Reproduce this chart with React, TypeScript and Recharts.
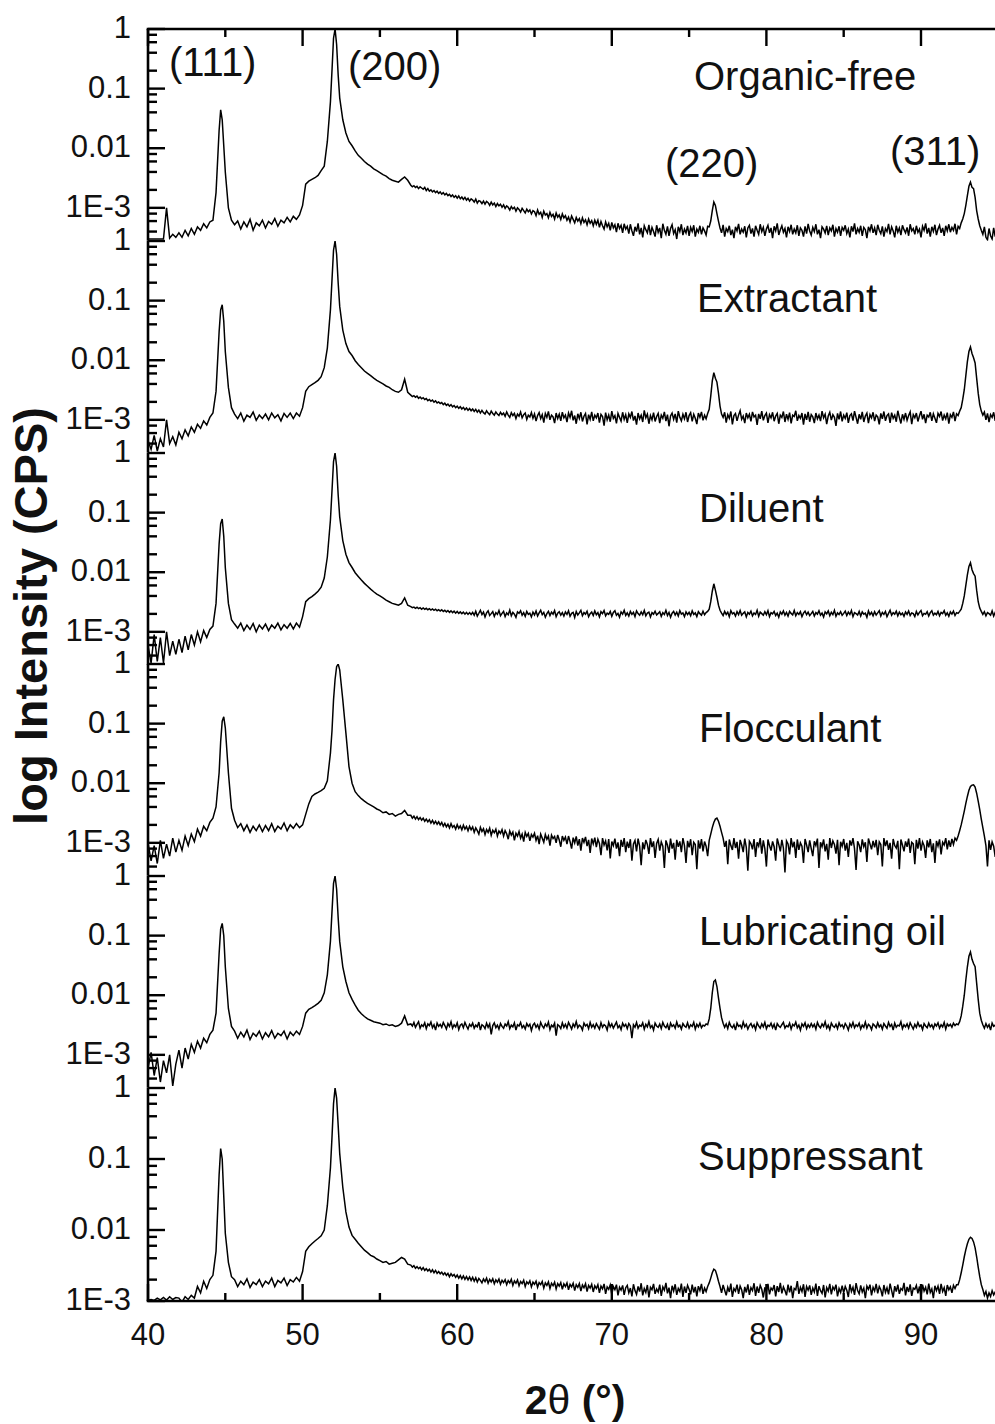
import React from 'react';
import { LineChart, Line, XAxis, YAxis } from 'recharts';

// 2θ positions (degrees), shared by every pattern: 0.2° steps (finer round the main peaks) up to 56.8, then 0.1° steps
const twoTheta = [
  40, 40.2, 40.4, 40.6, 40.8, 41, 41.2, 41.4, 41.6, 41.8,
  42, 42.2, 42.4, 42.6, 42.8, 43, 43.2, 43.4, 43.6, 43.8,
  44, 44.2, 44.4, 44.6, 44.7, 44.8, 44.9, 45, 45.2, 45.4,
  45.6, 45.8, 46, 46.2, 46.4, 46.6, 46.8, 47, 47.2, 47.4,
  47.6, 47.8, 48, 48.2, 48.4, 48.6, 48.8, 49, 49.2, 49.4,
  49.6, 49.8, 50, 50.2, 50.4, 50.6, 50.8, 51, 51.2, 51.4,
  51.6, 51.8, 51.9, 52, 52.1, 52.2, 52.3, 52.4, 52.6, 52.8,
  53, 53.2, 53.4, 53.6, 53.8, 54, 54.2, 54.4, 54.6, 54.8,
  55, 55.2, 55.4, 55.6, 55.8, 56, 56.2, 56.4, 56.6, 56.8,
  57, 57.1, 57.2, 57.3, 57.4, 57.5, 57.6, 57.7, 57.8, 57.9, 58, 58.1, 58.2, 58.3, 58.4, 58.5, 58.6, 58.7, 58.8, 58.9,
  59, 59.1, 59.2, 59.3, 59.4, 59.5, 59.6, 59.7, 59.8, 59.9, 60, 60.1, 60.2, 60.3, 60.4, 60.5, 60.6, 60.7, 60.8, 60.9,
  61, 61.1, 61.2, 61.3, 61.4, 61.5, 61.6, 61.7, 61.8, 61.9, 62, 62.1, 62.2, 62.3, 62.4, 62.5, 62.6, 62.7, 62.8, 62.9,
  63, 63.1, 63.2, 63.3, 63.4, 63.5, 63.6, 63.7, 63.8, 63.9, 64, 64.1, 64.2, 64.3, 64.4, 64.5, 64.6, 64.7, 64.8, 64.9,
  65, 65.1, 65.2, 65.3, 65.4, 65.5, 65.6, 65.7, 65.8, 65.9, 66, 66.1, 66.2, 66.3, 66.4, 66.5, 66.6, 66.7, 66.8, 66.9,
  67, 67.1, 67.2, 67.3, 67.4, 67.5, 67.6, 67.7, 67.8, 67.9, 68, 68.1, 68.2, 68.3, 68.4, 68.5, 68.6, 68.7, 68.8, 68.9,
  69, 69.1, 69.2, 69.3, 69.4, 69.5, 69.6, 69.7, 69.8, 69.9, 70, 70.1, 70.2, 70.3, 70.4, 70.5, 70.6, 70.7, 70.8, 70.9,
  71, 71.1, 71.2, 71.3, 71.4, 71.5, 71.6, 71.7, 71.8, 71.9, 72, 72.1, 72.2, 72.3, 72.4, 72.5, 72.6, 72.7, 72.8, 72.9,
  73, 73.1, 73.2, 73.3, 73.4, 73.5, 73.6, 73.7, 73.8, 73.9, 74, 74.1, 74.2, 74.3, 74.4, 74.5, 74.6, 74.7, 74.8, 74.9,
  75, 75.1, 75.2, 75.3, 75.4, 75.5, 75.6, 75.7, 75.8, 75.9, 76, 76.1, 76.2, 76.3, 76.4, 76.5, 76.6, 76.7, 76.8, 76.9,
  77, 77.1, 77.2, 77.3, 77.4, 77.5, 77.6, 77.7, 77.8, 77.9, 78, 78.1, 78.2, 78.3, 78.4, 78.5, 78.6, 78.7, 78.8, 78.9,
  79, 79.1, 79.2, 79.3, 79.4, 79.5, 79.6, 79.7, 79.8, 79.9, 80, 80.1, 80.2, 80.3, 80.4, 80.5, 80.6, 80.7, 80.8, 80.9,
  81, 81.1, 81.2, 81.3, 81.4, 81.5, 81.6, 81.7, 81.8, 81.9, 82, 82.1, 82.2, 82.3, 82.4, 82.5, 82.6, 82.7, 82.8, 82.9,
  83, 83.1, 83.2, 83.3, 83.4, 83.5, 83.6, 83.7, 83.8, 83.9, 84, 84.1, 84.2, 84.3, 84.4, 84.5, 84.6, 84.7, 84.8, 84.9,
  85, 85.1, 85.2, 85.3, 85.4, 85.5, 85.6, 85.7, 85.8, 85.9, 86, 86.1, 86.2, 86.3, 86.4, 86.5, 86.6, 86.7, 86.8, 86.9,
  87, 87.1, 87.2, 87.3, 87.4, 87.5, 87.6, 87.7, 87.8, 87.9, 88, 88.1, 88.2, 88.3, 88.4, 88.5, 88.6, 88.7, 88.8, 88.9,
  89, 89.1, 89.2, 89.3, 89.4, 89.5, 89.6, 89.7, 89.8, 89.9, 90, 90.1, 90.2, 90.3, 90.4, 90.5, 90.6, 90.7, 90.8, 90.9,
  91, 91.1, 91.2, 91.3, 91.4, 91.5, 91.6, 91.7, 91.8, 91.9, 92, 92.1, 92.2, 92.3, 92.4, 92.5, 92.6, 92.7, 92.8, 92.9,
  93, 93.1, 93.2, 93.3, 93.4, 93.5, 93.6, 93.7, 93.8, 93.9, 94, 94.1, 94.2, 94.3, 94.4, 94.5, 94.6, 94.7, 94.8, 94.9,
  95,
];

const organicFree = [
  3e-4, 3e-4, 3e-4, 3e-4, 3e-4, 3e-4, 1e-3, 3.1e-4, 3.6e-4, 3.2e-4,
  3.8e-4, 3.2e-4, 4.2e-4, 3.4e-4, 4.5e-4, 3.6e-4, 4.8e-4, 4.2e-4, 5.4e-4, 4.6e-4,
  5.8e-4, 6.2e-4, 1.8e-3, 0.02, 0.044, 0.03, 0.011, 4e-3, 1e-3, 6.2e-4,
  5.2e-4, 6e-4, 4.4e-4, 5.8e-4, 4.8e-4, 6.4e-4, 4.2e-4, 5.6e-4, 5e-4, 6.2e-4,
  4.6e-4, 5.9e-4, 5.3e-4, 6.6e-4, 4.9e-4, 6.2e-4, 5.6e-4, 6.9e-4, 5.8e-4, 7.2e-4,
  6.4e-4, 7.6e-4, 1.1e-3, 2.5e-3, 2.8e-3, 3e-3, 3.2e-3, 3.5e-3, 4.2e-3, 5e-3,
  0.013, 0.06, 0.2, 0.7, 1, 0.55, 0.17, 0.07, 0.03, 0.018,
  0.013, 0.011, 9e-3, 7.6e-3, 6.8e-3, 6e-3, 5.4e-3, 5e-3, 4.5e-3, 4.2e-3,
  3.9e-3, 3.6e-3, 3.4e-3, 3.1e-3, 2.9e-3, 2.8e-3, 2.7e-3, 3e-3, 3.3e-3, 2.9e-3,
  2.4e-3, 2.25e-3, 2.35e-3, 2.2e-3, 2.3e-3, 2.1e-3, 2.25e-3, 2.15e-3, 2.05e-3, 2.2e-3, 1.95e-3, 2.1e-3, 1.9e-3, 2e-3, 1.85e-3, 1.95e-3, 1.8e-3, 1.9e-3, 1.75e-3, 1.85e-3,
  1.7e-3, 1.8e-3, 1.65e-3, 1.75e-3, 1.6e-3, 1.68e-3, 1.55e-3, 1.65e-3, 1.5e-3, 1.6e-3, 1.45e-3, 1.58e-3, 1.42e-3, 1.52e-3, 1.38e-3, 1.5e-3, 1.35e-3, 1.45e-3, 1.3e-3, 1.42e-3,
  1.35e-3, 1.25e-3, 1.4e-3, 1.2e-3, 1.32e-3, 1.28e-3, 1.18e-3, 1.3e-3, 1.15e-3, 1.28e-3, 1.22e-3, 1.1e-3, 1.25e-3, 1.12e-3, 1.2e-3, 1.05e-3, 1.18e-3, 1.08e-3, 1.15e-3, 1.02e-3,
  1.12e-3, 9.8e-4, 1.08e-3, 1.02e-3, 9.2e-4, 1.05e-3, 9.6e-4, 1.02e-3, 8.8e-4, 1e-3, 9.4e-4, 8.5e-4, 9.8e-4, 9e-4, 8.2e-4, 9.5e-4, 8.6e-4, 9.2e-4, 7.9e-4, 9e-4,
  8.6e-4, 7.4e-4, 9.2e-4, 7.8e-4, 8.4e-4, 6.9e-4, 8.8e-4, 7.6e-4, 8e-4, 6.8e-4, 8.4e-4, 7.2e-4, 7.8e-4, 6.5e-4, 8.2e-4, 7e-4, 7.6e-4, 6.4e-4, 7.9e-4, 6.8e-4,
  7.4e-4, 6.2e-4, 7e-4, 5.8e-4, 7.3e-4, 6.4e-4, 5.6e-4, 6.9e-4, 6e-4, 6.6e-4, 5.4e-4, 6.8e-4, 5.7e-4, 6.3e-4, 5.2e-4, 6.5e-4, 5.5e-4, 6.1e-4, 5e-4, 6.2e-4,
  5.3e-4, 6.2e-4, 4.7e-4, 5.9e-4, 5e-4, 4.4e-4, 5.8e-4, 4.8e-4, 5.5e-4, 4.2e-4, 5.7e-4, 4.6e-4, 5.2e-4, 3.9e-4, 5.5e-4, 4.5e-4, 5.1e-4, 3.8e-4, 5.4e-4, 4.4e-4,
  4.9e-4, 3.7e-4, 5.3e-4, 4.1e-4, 3.4e-4, 4.8e-4, 4e-4, 5.5e-4, 3.6e-4, 4.6e-4, 3.2e-4, 5e-4, 4.3e-4, 3.8e-4, 5.2e-4, 3.5e-4, 4.7e-4, 4e-4, 3.3e-4, 5.1e-4,
  3.9e-4, 4.6e-4, 3.1e-4, 5.4e-4, 4.2e-4, 3.6e-4, 4.9e-4, 3.4e-4, 4.5e-4, 5.2e-4, 3.7e-4, 4.3e-4, 3e-4, 4.8e-4, 4e-4, 5.3e-4, 3.5e-4, 4.4e-4, 3.8e-4, 5e-4,
  3.4e-4, 4.7e-4, 4e-4, 5.1e-4, 3.3e-4, 4.4e-4, 3.9e-4, 5e-4, 3.6e-4, 4.6e-4, 4.1e-4, 3.5e-4, 4.9e-4, 4.8e-4, 6e-4, 9e-4, 1.25e-3, 1.1e-3, 8e-4, 6e-4,
  4.6e-4, 3.8e-4, 5.2e-4, 3.3e-4, 4.5e-4, 4e-4, 5e-4, 3.5e-4, 4.3e-4, 3.1e-4, 4.8e-4, 4.1e-4, 5.4e-4, 3.6e-4, 4.4e-4, 3.9e-4, 4.9e-4, 3.2e-4, 4.6e-4, 5.1e-4,
  3.7e-4, 4.5e-4, 3.3e-4, 5e-4, 4.2e-4, 3.6e-4, 5.3e-4, 4e-4, 4.7e-4, 3.4e-4, 4.4e-4, 5.1e-4, 3.8e-4, 4.6e-4, 3.1e-4, 4.9e-4, 4.1e-4, 5.5e-4, 3.5e-4, 4.3e-4,
  5e-4, 3.9e-4, 4.5e-4, 3.2e-4, 4.8e-4, 4e-4, 5.2e-4, 3.6e-4, 4.4e-4, 3.8e-4, 5.1e-4, 3.4e-4, 4.6e-4, 4.2e-4, 3.3e-4, 4.9e-4, 3.7e-4, 5.4e-4, 4.1e-4, 3.5e-4,
  4.7e-4, 4e-4, 5.3e-4, 3.6e-4, 4.3e-4, 3.1e-4, 4.8e-4, 4.4e-4, 3.8e-4, 5e-4, 3.5e-4, 4.6e-4, 4.1e-4, 5.2e-4, 3.3e-4, 4.5e-4, 3.9e-4, 4.9e-4, 3.4e-4, 4.7e-4,
  4.2e-4, 5.1e-4, 3.7e-4, 4.4e-4, 3.2e-4, 4.9e-4, 4e-4, 5.5e-4, 3.6e-4, 4.5e-4, 3.9e-4, 5e-4, 3.4e-4, 4.7e-4, 4.3e-4, 3.1e-4, 4.8e-4, 4.1e-4, 5.3e-4, 3.8e-4,
  4.6e-4, 3.5e-4, 5.2e-4, 4.2e-4, 3.7e-4, 4.9e-4, 3.3e-4, 4.5e-4, 4e-4, 5.4e-4, 3.6e-4, 4.8e-4, 4.1e-4, 3.2e-4, 5e-4, 3.9e-4, 4.6e-4, 3.5e-4, 5.1e-4, 4.3e-4,
  3.8e-4, 4.7e-4, 3.4e-4, 5.3e-4, 4.1e-4, 4.5e-4, 3.6e-4, 5e-4, 3.9e-4, 4.4e-4, 3.2e-4, 4.9e-4, 4.2e-4, 5.5e-4, 3.7e-4, 4.6e-4, 3.3e-4, 4.8e-4, 4e-4, 5.2e-4,
  3.5e-4, 4.4e-4, 5.1e-4, 3.8e-4, 4.6e-4, 3.4e-4, 5e-4, 4.1e-4, 5.3e-4, 3.9e-4, 4.7e-4, 4.2e-4, 5.4e-4, 3.6e-4, 4.9e-4, 4.5e-4, 5.6e-4, 6.5e-4, 8e-4, 1.1e-3,
  1.6e-3, 2.3e-3, 2.7e-3, 2.2e-3, 2.1e-3, 1.5e-3, 9e-4, 6.5e-4, 5e-4, 4.2e-4, 3.6e-4, 4.8e-4, 3.2e-4, 2.9e-4, 4.5e-4, 3.4e-4, 3e-4, 4.6e-4, 3.3e-4, 4.4e-4,
  3.8e-4,
];

const extractant = [
  4.5e-4, 3.2e-4, 5.5e-4, 3e-4, 4.8e-4, 3.5e-4, 1e-3, 4e-4, 5.2e-4, 3.8e-4,
  6.2e-4, 4.8e-4, 6.8e-4, 5.4e-4, 7.6e-4, 6.2e-4, 8.4e-4, 7.2e-4, 9.6e-4, 8.2e-4,
  1.1e-3, 1.3e-3, 3e-3, 0.03, 0.07, 0.085, 0.045, 0.014, 3.5e-3, 1.6e-3,
  1.25e-3, 1.05e-3, 1.3e-3, 9.5e-4, 1.2e-3, 1.1e-3, 1.35e-3, 9.8e-4, 1.2e-3, 1.05e-3,
  1.25e-3, 1e-3, 1.3e-3, 1.08e-3, 1.22e-3, 9.6e-4, 1.28e-3, 1.1e-3, 1.3e-3, 1.05e-3,
  1.3e-3, 1.15e-3, 1.6e-3, 3e-3, 3.6e-3, 3.9e-3, 4.2e-3, 4.6e-3, 5.3e-3, 7.5e-3,
  0.016, 0.07, 0.22, 0.7, 1, 0.6, 0.2, 0.08, 0.032, 0.019,
  0.014, 0.012, 9.8e-3, 8.5e-3, 7.5e-3, 6.6e-3, 6e-3, 5.5e-3, 5e-3, 4.6e-3,
  4.3e-3, 4e-3, 3.7e-3, 3.5e-3, 3.2e-3, 3e-3, 2.9e-3, 3.2e-3, 4.8e-3, 2.9e-3,
  2.6e-3, 2.45e-3, 2.55e-3, 2.4e-3, 2.5e-3, 2.3e-3, 2.42e-3, 2.25e-3, 2.35e-3, 2.2e-3, 2.28e-3, 2.1e-3, 2.2e-3, 2.05e-3, 2.15e-3, 1.98e-3, 2.08e-3, 1.92e-3, 2e-3, 1.88e-3,
  1.95e-3, 1.8e-3, 1.9e-3, 1.75e-3, 1.84e-3, 1.7e-3, 1.8e-3, 1.65e-3, 1.74e-3, 1.6e-3, 1.7e-3, 1.56e-3, 1.66e-3, 1.52e-3, 1.62e-3, 1.48e-3, 1.58e-3, 1.45e-3, 1.55e-3, 1.42e-3,
  1.52e-3, 1.38e-3, 1.5e-3, 1.35e-3, 1.46e-3, 1.3e-3, 1.44e-3, 1.32e-3, 1.25e-3, 1.42e-3, 1.3e-3, 1.22e-3, 1.4e-3, 1.28e-3, 1.2e-3, 1.36e-3, 1.25e-3, 1.18e-3, 1.34e-3, 1.22e-3,
  1.3e-3, 1.15e-3, 1.36e-3, 1.2e-3, 1.1e-3, 1.32e-3, 1.18e-3, 1.28e-3, 1.05e-3, 1.25e-3, 1.15e-3, 1.35e-3, 1.08e-3, 1.22e-3, 1.3e-3, 1.02e-3, 1.2e-3, 1.12e-3, 1.33e-3, 1.06e-3,
  1.25e-3, 9.5e-4, 1.18e-3, 1.32e-3, 1.05e-3, 1.22e-3, 9e-4, 1.28e-3, 1.1e-3, 1.38e-3, 1e-3, 1.2e-3, 1.12e-3, 8.8e-4, 1.3e-3, 1.05e-3, 1.24e-3, 9.6e-4, 1.35e-3, 1.08e-3,
  1.2e-3, 9.2e-4, 1.3e-3, 1.1e-3, 1.42e-3, 9.8e-4, 1.18e-3, 8.6e-4, 1.26e-3, 1.05e-3, 1.34e-3, 9.4e-4, 1.15e-3, 1.28e-3, 8.4e-4, 1.22e-3, 1.02e-3, 1.36e-3, 9.6e-4, 1.2e-3,
  1.08e-3, 1.3e-3, 9e-4, 1.24e-3, 1.14e-3, 8e-4, 1.32e-3, 1e-3, 1.2e-3, 9.3e-4, 1.4e-3, 1.06e-3, 1.18e-3, 8.7e-4, 1.28e-3, 1.1e-3, 9.5e-4, 1.34e-3, 1.02e-3, 1.22e-3,
  8.9e-4, 1.26e-3, 1.1e-3, 1.38e-3, 9.7e-4, 1.16e-3, 8.3e-4, 1.3e-3, 1.04e-3, 1.2e-3, 9.2e-4, 1.44e-3, 1.08e-3, 1.24e-3, 8.6e-4, 1.18e-3, 1e-3, 1.32e-3, 9.4e-4, 1.14e-3,
  1.28e-3, 8.8e-4, 1.2e-3, 1.06e-3, 1.36e-3, 9.5e-4, 1.22e-3, 7.8e-4, 1.16e-3, 1.3e-3, 1.02e-3, 1.26e-3, 9e-4, 1.4e-3, 1.1e-3, 9.6e-4, 1.24e-3, 1.04e-3, 1.34e-3, 9.2e-4,
  1.18e-3, 1.32e-3, 9.4e-4, 1.24e-3, 1.06e-3, 8.5e-4, 1.3e-3, 1.1e-3, 1.36e-3, 9.8e-4, 1.2e-3, 1.04e-3, 1.28e-3, 1.5e-3, 2.5e-3, 4.5e-3, 6.2e-3, 5e-3, 4.3e-3, 2.8e-3,
  1.7e-3, 1.25e-3, 1.1e-3, 1.34e-3, 9e-4, 1.22e-3, 1.06e-3, 1.38e-3, 8.4e-4, 1.18e-3, 1.28e-3, 9.6e-4, 1.2e-3, 1.42e-3, 1.02e-3, 1.16e-3, 8.8e-4, 1.3e-3, 1.08e-3, 1.24e-3,
  9.4e-4, 1.36e-3, 1.12e-3, 1.2e-3, 8.2e-4, 1.26e-3, 1.04e-3, 1.4e-3, 9.8e-4, 1.18e-3, 1.3e-3, 8.9e-4, 1.22e-3, 1.08e-3, 1.34e-3, 9.5e-4, 1.16e-3, 1.28e-3, 8.6e-4, 1.2e-3,
  1.1e-3, 1.38e-3, 9.2e-4, 1.24e-3, 1.02e-3, 1.32e-3, 8.7e-4, 1.2e-3, 1.14e-3, 1.42e-3, 9.6e-4, 1.18e-3, 1.06e-3, 1.3e-3, 8.3e-4, 1.26e-3, 1e-3, 1.36e-3, 9.3e-4, 1.22e-3,
  1.12e-3, 8.8e-4, 1.3e-3, 1.04e-3, 1.2e-3, 9.5e-4, 1.4e-3, 1.08e-3, 1.24e-3, 8.5e-4, 1.16e-3, 1.34e-3, 9.9e-4, 1.22e-3, 1.1e-3, 7.9e-4, 1.28e-3, 1.02e-3, 1.38e-3, 9.4e-4,
  1.2e-3, 1.06e-3, 1.32e-3, 8.9e-4, 1.18e-3, 1.26e-3, 9.7e-4, 1.4e-3, 1.1e-3, 8.6e-4, 1.24e-3, 1.02e-3, 1.36e-3, 9.2e-4, 1.16e-3, 1.3e-3, 8.8e-4, 1.22e-3, 1.08e-3, 1.34e-3,
  9.5e-4, 1.2e-3, 1.12e-3, 8.4e-4, 1.28e-3, 1.04e-3, 1.38e-3, 9.6e-4, 1.18e-3, 1.26e-3, 8.9e-4, 1.32e-3, 1.06e-3, 1.2e-3, 9.3e-4, 1.42e-3, 1.1e-3, 8.7e-4, 1.24e-3, 1.02e-3,
  1.3e-3, 9.8e-4, 1.18e-3, 1.36e-3, 8.5e-4, 1.22e-3, 1.08e-3, 1.3e-3, 9.4e-4, 1.16e-3, 1.4e-3, 1.02e-3, 1.24e-3, 8.8e-4, 1.2e-3, 1.12e-3, 1.34e-3, 9.6e-4, 1.26e-3, 1.06e-3,
  8.9e-4, 1.28e-3, 1.14e-3, 1.38e-3, 9.7e-4, 1.2e-3, 1.04e-3, 1.32e-3, 8.6e-4, 1.22e-3, 1.1e-3, 1.36e-3, 9.5e-4, 1.26e-3, 1.18e-3, 1.4e-3, 1.6e-3, 2.2e-3, 3.2e-3, 5.5e-3,
  9.5e-3, 0.014, 0.0167, 0.013, 0.011, 9e-3, 5e-3, 2.8e-3, 1.8e-3, 1.4e-3, 1.2e-3, 1.35e-3, 1e-3, 1.28e-3, 9.2e-4, 1.22e-3, 1.1e-3, 1.34e-3, 9.6e-4, 1.2e-3,
  1.15e-3,
];

const diluent = [
  6e-4, 3e-4, 9e-4, 3.2e-4, 8e-4, 3e-4, 1e-3, 4e-4, 7e-4, 4.2e-4,
  7.5e-4, 4.5e-4, 8.5e-4, 5e-4, 9e-4, 6e-4, 1e-3, 6.8e-4, 1.05e-3, 8e-4,
  1.1e-3, 1.25e-3, 3e-3, 0.03, 0.065, 0.078, 0.04, 0.012, 3e-3, 1.6e-3,
  1.35e-3, 1.15e-3, 1.4e-3, 1.05e-3, 1.3e-3, 1.1e-3, 1.38e-3, 1e-3, 1.3e-3, 1.12e-3,
  1.35e-3, 1.05e-3, 1.3e-3, 1.15e-3, 1.4e-3, 1.08e-3, 1.32e-3, 1.15e-3, 1.38e-3, 1.12e-3,
  1.4e-3, 1.2e-3, 1.8e-3, 3.2e-3, 3.6e-3, 3.9e-3, 4.3e-3, 4.8e-3, 5.6e-3, 8e-3,
  0.018, 0.075, 0.23, 0.72, 1, 0.6, 0.2, 0.085, 0.034, 0.02,
  0.0145, 0.012, 9.8e-3, 8.5e-3, 7.4e-3, 6.5e-3, 5.8e-3, 5.2e-3, 4.7e-3, 4.3e-3,
  4e-3, 3.7e-3, 3.4e-3, 3.2e-3, 3e-3, 2.9e-3, 2.8e-3, 3e-3, 3.7e-3, 2.8e-3,
  2.65e-3, 2.55e-3, 2.6e-3, 2.48e-3, 2.58e-3, 2.45e-3, 2.55e-3, 2.4e-3, 2.52e-3, 2.38e-3, 2.48e-3, 2.35e-3, 2.45e-3, 2.32e-3, 2.42e-3, 2.3e-3, 2.4e-3, 2.26e-3, 2.36e-3, 2.24e-3,
  2.34e-3, 2.2e-3, 2.3e-3, 2.16e-3, 2.28e-3, 2.12e-3, 2.25e-3, 2.1e-3, 2.22e-3, 2.06e-3, 2.2e-3, 2.04e-3, 2.16e-3, 2.02e-3, 2.14e-3, 1.98e-3, 2.12e-3, 1.96e-3, 2.1e-3, 1.95e-3,
  2.12e-3, 1.9e-3, 2.22e-3, 1.84e-3, 2.05e-3, 2.3e-3, 1.95e-3, 2.15e-3, 1.78e-3, 2.08e-3, 2.25e-3, 1.88e-3, 2.02e-3, 2.18e-3, 1.82e-3, 2.1e-3, 1.96e-3, 2.28e-3, 1.86e-3, 2.04e-3,
  2.2e-3, 1.8e-3, 2.08e-3, 1.94e-3, 2.32e-3, 1.86e-3, 2.12e-3, 1.98e-3, 1.75e-3, 2.16e-3, 2.04e-3, 2.26e-3, 1.9e-3, 2.1e-3, 1.82e-3, 2.2e-3, 1.96e-3, 2.06e-3, 1.78e-3, 2.14e-3,
  1.92e-3, 2.24e-3, 1.85e-3, 2.08e-3, 2.3e-3, 1.94e-3, 2.12e-3, 1.76e-3, 2.02e-3, 2.2e-3, 1.88e-3, 2.14e-3, 1.98e-3, 2.28e-3, 1.8e-3, 2.06e-3, 2.18e-3, 1.9e-3, 2.1e-3, 1.84e-3,
  2.16e-3, 1.96e-3, 2.26e-3, 1.82e-3, 2.04e-3, 2.12e-3, 1.74e-3, 2.2e-3, 1.92e-3, 2.08e-3, 2.3e-3, 1.86e-3, 2.1e-3, 1.98e-3, 2.22e-3, 1.8e-3, 2.02e-3, 2.14e-3, 1.88e-3, 2.24e-3,
  1.94e-3, 2.1e-3, 1.78e-3, 2.18e-3, 2.02e-3, 2.28e-3, 1.86e-3, 2.06e-3, 1.96e-3, 2.2e-3, 1.82e-3, 2.12e-3, 2.26e-3, 1.9e-3, 2.04e-3, 1.76e-3, 2.16e-3, 1.98e-3, 2.3e-3, 1.88e-3,
  2.08e-3, 1.84e-3, 2.2e-3, 1.96e-3, 2.12e-3, 1.8e-3, 2.24e-3, 2.02e-3, 1.9e-3, 2.16e-3, 1.94e-3, 2.28e-3, 1.86e-3, 2.06e-3, 2.14e-3, 1.78e-3, 2.1e-3, 1.98e-3, 2.22e-3, 1.92e-3,
  2.04e-3, 2.18e-3, 1.82e-3, 2.1e-3, 1.95e-3, 2.3e-3, 1.88e-3, 2.12e-3, 1.76e-3, 2.06e-3, 2.2e-3, 1.92e-3, 2.14e-3, 1.84e-3, 2.26e-3, 1.98e-3, 2.08e-3, 1.8e-3, 2.16e-3, 1.94e-3,
  2.12e-3, 1.86e-3, 2.24e-3, 1.96e-3, 2.08e-3, 1.8e-3, 2.18e-3, 2.02e-3, 1.9e-3, 2.22e-3, 1.94e-3, 2.1e-3, 2.2e-3, 2.4e-3, 3.2e-3, 4.8e-3, 6.4e-3, 5e-3, 3.8e-3, 2.8e-3,
  2.3e-3, 2.06e-3, 1.88e-3, 2.2e-3, 1.96e-3, 2.14e-3, 1.8e-3, 2.26e-3, 2e-3, 2.1e-3, 1.84e-3, 2.18e-3, 1.94e-3, 2.28e-3, 1.9e-3, 2.04e-3, 2.16e-3, 1.78e-3, 2.12e-3, 1.98e-3,
  2.22e-3, 1.86e-3, 2.08e-3, 1.96e-3, 2.3e-3, 1.82e-3, 2.14e-3, 2.02e-3, 1.9e-3, 2.18e-3, 1.94e-3, 2.26e-3, 1.8e-3, 2.1e-3, 2e-3, 2.2e-3, 1.88e-3, 2.06e-3, 1.76e-3, 2.16e-3,
  1.98e-3, 2.24e-3, 1.9e-3, 2.12e-3, 1.84e-3, 2.2e-3, 2.04e-3, 1.92e-3, 2.28e-3, 1.86e-3, 2.1e-3, 1.96e-3, 2.18e-3, 1.8e-3, 2.06e-3, 2.22e-3, 1.94e-3, 2.14e-3, 1.88e-3, 2.02e-3,
  2.2e-3, 1.84e-3, 2.1e-3, 1.98e-3, 2.26e-3, 1.9e-3, 2.06e-3, 1.78e-3, 2.16e-3, 2e-3, 2.24e-3, 1.86e-3, 2.12e-3, 1.94e-3, 2.3e-3, 1.82e-3, 2.08e-3, 1.96e-3, 2.18e-3, 1.9e-3,
  2.04e-3, 2.22e-3, 1.88e-3, 2.14e-3, 1.96e-3, 2.28e-3, 1.8e-3, 2.1e-3, 2.02e-3, 1.92e-3, 2.2e-3, 1.84e-3, 2.16e-3, 1.98e-3, 2.06e-3, 1.76e-3, 2.24e-3, 1.94e-3, 2.12e-3, 1.86e-3,
  2.18e-3, 1.92e-3, 2.08e-3, 2.26e-3, 1.84e-3, 2.12e-3, 1.96e-3, 2.2e-3, 1.8e-3, 2.04e-3, 2.3e-3, 1.9e-3, 2.1e-3, 1.98e-3, 2.22e-3, 1.86e-3, 2.14e-3, 1.94e-3, 2.06e-3, 1.82e-3,
  2.16e-3, 1.96e-3, 2.24e-3, 1.88e-3, 2.08e-3, 2.02e-3, 1.8e-3, 2.2e-3, 1.92e-3, 2.12e-3, 2.28e-3, 1.86e-3, 2.04e-3, 1.98e-3, 2.18e-3, 1.84e-3, 2.1e-3, 2.26e-3, 1.9e-3, 2.06e-3,
  1.94e-3, 2.2e-3, 1.86e-3, 2.12e-3, 2.02e-3, 2.26e-3, 1.9e-3, 2.08e-3, 1.82e-3, 2.16e-3, 1.98e-3, 2.22e-3, 1.88e-3, 2.1e-3, 2.04e-3, 2.2e-3, 2.4e-3, 3e-3, 4e-3, 6e-3,
  9e-3, 0.0125, 0.0144, 0.011, 9.5e-3, 8.6e-3, 5e-3, 3.2e-3, 2.5e-3, 2.2e-3, 1.96e-3, 2.18e-3, 1.86e-3, 2.1e-3, 2.02e-3, 1.9e-3, 2.24e-3, 1.84e-3, 2.12e-3, 1.98e-3,
  2.05e-3,
];

const flocculant = [
  1e-3, 5e-4, 9e-4, 4.5e-4, 1.1e-3, 5.5e-4, 9.5e-4, 6e-4, 1.2e-3, 7e-4,
  1.1e-3, 7.5e-4, 1.3e-3, 9e-4, 1.4e-3, 1.05e-3, 1.7e-3, 1.3e-3, 1.9e-3, 1.6e-3,
  2.2e-3, 2.6e-3, 4e-3, 0.015, 0.05, 0.11, 0.13, 0.085, 0.015, 3.8e-3,
  2.4e-3, 1.8e-3, 2.1e-3, 1.6e-3, 2e-3, 1.5e-3, 1.9e-3, 1.6e-3, 2e-3, 1.55e-3,
  1.95e-3, 1.6e-3, 2.1e-3, 1.55e-3, 1.9e-3, 1.7e-3, 2.15e-3, 1.6e-3, 2e-3, 1.75e-3,
  2.1e-3, 1.8e-3, 2e-3, 3e-3, 4.5e-3, 6e-3, 6.6e-3, 7e-3, 7.5e-3, 8.2e-3,
  0.011, 0.032, 0.075, 0.25, 0.55, 0.9, 1, 0.8, 0.25, 0.07,
  0.019, 0.01, 7.2e-3, 6.2e-3, 5.5e-3, 5e-3, 4.6e-3, 4.3e-3, 4e-3, 3.7e-3,
  3.5e-3, 3.2e-3, 3.3e-3, 3e-3, 3.1e-3, 2.8e-3, 3e-3, 3.1e-3, 3.5e-3, 2.9e-3,
  2.9e-3, 2.6e-3, 2.8e-3, 2.5e-3, 2.75e-3, 2.45e-3, 2.65e-3, 2.4e-3, 2.6e-3, 2.3e-3, 2.5e-3, 2.25e-3, 2.45e-3, 2.15e-3, 2.38e-3, 2.1e-3, 2.3e-3, 2.05e-3, 2.25e-3, 2e-3,
  2.2e-3, 1.9e-3, 2.12e-3, 1.85e-3, 2.05e-3, 1.78e-3, 2.1e-3, 1.82e-3, 1.95e-3, 1.7e-3, 2.02e-3, 1.75e-3, 1.92e-3, 1.65e-3, 1.98e-3, 1.7e-3, 1.88e-3, 1.6e-3, 1.9e-3, 1.66e-3,
  1.85e-3, 1.5e-3, 1.78e-3, 1.6e-3, 1.4e-3, 1.82e-3, 1.55e-3, 1.72e-3, 1.38e-3, 1.68e-3, 1.5e-3, 1.76e-3, 1.34e-3, 1.62e-3, 1.48e-3, 1.7e-3, 1.3e-3, 1.58e-3, 1.44e-3, 1.66e-3,
  1.3e-3, 1.6e-3, 1.42e-3, 1.15e-3, 1.58e-3, 1.35e-3, 1.52e-3, 1.1e-3, 1.45e-3, 1.3e-3, 1.55e-3, 1.2e-3, 1.4e-3, 1.05e-3, 1.5e-3, 1.28e-3, 1.44e-3, 1.08e-3, 1.38e-3, 1.25e-3,
  1.45e-3, 1.1e-3, 1.32e-3, 9.5e-4, 1.4e-3, 1.2e-3, 1.02e-3, 1.38e-3, 1.15e-3, 1.3e-3, 9e-4, 1.35e-3, 1.18e-3, 1.28e-3, 1e-3, 1.36e-3, 1.12e-3, 8.6e-4, 1.3e-3, 1.1e-3,
  1.25e-3, 9.5e-4, 1.3e-3, 1.05e-3, 8e-4, 1.22e-3, 1e-3, 1.28e-3, 9e-4, 1.15e-3, 7.4e-4, 1.2e-3, 1.02e-3, 1.26e-3, 8.8e-4, 1.12e-3, 6.8e-4, 1.18e-3, 9.6e-4, 1.22e-3,
  8.5e-4, 1.15e-3, 9.8e-4, 6.2e-4, 1.2e-3, 9.2e-4, 1.08e-3, 7.5e-4, 1.16e-3, 5.5e-4, 1.05e-3, 9e-4, 1.18e-3, 8e-4, 1.02e-3, 6e-4, 1.12e-3, 8.6e-4, 1.2e-3, 7e-4,
  1.05e-3, 8.2e-4, 1.15e-3, 5e-4, 9.6e-4, 1.1e-3, 7.2e-4, 1.18e-3, 8.8e-4, 4.2e-4, 1.02e-3, 7.8e-4, 1.12e-3, 9.4e-4, 6.5e-4, 1.2e-3, 8.5e-4, 1.06e-3, 5.6e-4, 9.8e-4,
  1.14e-3, 7.4e-4, 1.04e-3, 8.8e-4, 3.8e-4, 1.1e-3, 9.2e-4, 6.8e-4, 1.18e-3, 8e-4, 1e-3, 5.2e-4, 1.12e-3, 8.6e-4, 1.06e-3, 7e-4, 1.2e-3, 9e-4, 4.6e-4, 1.08e-3,
  8.4e-4, 1.15e-3, 6.2e-4, 1.02e-3, 9.4e-4, 3.6e-4, 1.1e-3, 8e-4, 1.16e-3, 7.2e-4, 1.05e-3, 8.8e-4, 6e-4, 1.1e-3, 1.4e-3, 1.8e-3, 2.2e-3, 2.5e-3, 2.6e-3, 2.3e-3,
  1.9e-3, 1.5e-3, 1.2e-3, 8.6e-4, 1.08e-3, 4.4e-4, 1.14e-3, 9e-4, 7.6e-4, 1.2e-3, 8.2e-4, 1.04e-3, 5.4e-4, 1.12e-3, 9.2e-4, 7e-4, 1.18e-3, 8.4e-4, 3.4e-4, 1.06e-3,
  9.6e-4, 7.8e-4, 1.16e-3, 5.8e-4, 1.02e-3, 8.8e-4, 1.2e-3, 6.6e-4, 1.1e-3, 8e-4, 4e-4, 1.14e-3, 9e-4, 7.4e-4, 1.06e-3, 8.6e-4, 5e-4, 1.18e-3, 9.4e-4, 7.2e-4,
  1.12e-3, 8.2e-4, 3.2e-4, 1.08e-3, 9.6e-4, 6.4e-4, 1.2e-3, 8.4e-4, 1.04e-3, 5.6e-4, 1.14e-3, 7.6e-4, 1e-3, 8.8e-4, 4.6e-4, 1.16e-3, 9.2e-4, 7e-4, 1.1e-3, 8e-4,
  6e-4, 1.06e-3, 9e-4, 1.18e-3, 3.8e-4, 1.02e-3, 8.6e-4, 1.14e-3, 7.2e-4, 9.6e-4, 5.2e-4, 1.2e-3, 8.2e-4, 1.08e-3, 9.4e-4, 6.6e-4, 1.12e-3, 4.2e-4, 1.04e-3, 8.8e-4,
  1.16e-3, 7.4e-4, 1e-3, 5.8e-4, 1.1e-3, 9e-4, 1.2e-3, 8e-4, 3.5e-4, 1.06e-3, 9.2e-4, 7e-4, 1.14e-3, 8.6e-4, 1.02e-3, 4.8e-4, 1.18e-3, 9.6e-4, 7.8e-4, 1.08e-3,
  8.4e-4, 1.12e-3, 6.2e-4, 1.04e-3, 9.4e-4, 4e-4, 1.2e-3, 8.8e-4, 1.1e-3, 7.6e-4, 1e-3, 5.4e-4, 1.16e-3, 9e-4, 8.2e-4, 1.08e-3, 3.6e-4, 1.14e-3, 9.2e-4, 7.2e-4,
  1.06e-3, 8.6e-4, 1.18e-3, 6.8e-4, 1.02e-3, 9.6e-4, 4.4e-4, 1.12e-3, 8e-4, 1.2e-3, 7.4e-4, 1.04e-3, 9e-4, 5.6e-4, 1.1e-3, 8.4e-4, 1.16e-3, 7e-4, 9.8e-4, 4.6e-4,
  1.08e-3, 8.8e-4, 1.14e-3, 6.4e-4, 1.02e-3, 9.2e-4, 1.2e-3, 7.8e-4, 1.1e-3, 8.6e-4, 1.16e-3, 9.4e-4, 1.2e-3, 1.1e-3, 1.3e-3, 1.6e-3, 2e-3, 2.6e-3, 3.4e-3, 4.6e-3,
  6e-3, 7.6e-3, 8.8e-3, 9.3e-3, 9.4e-3, 8.6e-3, 6.8e-3, 5e-3, 3.6e-3, 2.5e-3, 1.8e-3, 1.3e-3, 9e-4, 4e-4, 1.1e-3, 7.6e-4, 1.04e-3, 8.8e-4, 5.8e-4, 1.12e-3,
  9e-4,
];

const lubricatingOil = [
  6e-4, 1.1e-3, 4.5e-4, 9e-4, 3.5e-4, 8e-4, 5e-4, 1e-3, 3e-4, 7e-4,
  1.2e-3, 6e-4, 1.3e-3, 8.5e-4, 1.5e-3, 1.1e-3, 1.7e-3, 1.3e-3, 1.9e-3, 1.6e-3,
  2.2e-3, 2.6e-3, 5e-3, 0.05, 0.13, 0.16, 0.1, 0.03, 6e-3, 3e-3,
  2.5e-3, 1.9e-3, 2.4e-3, 2e-3, 2.6e-3, 1.8e-3, 2.3e-3, 2.05e-3, 2.5e-3, 1.85e-3,
  2.35e-3, 2e-3, 2.55e-3, 1.9e-3, 2.3e-3, 2.1e-3, 2.5e-3, 1.85e-3, 2.4e-3, 2.1e-3,
  2.5e-3, 2.2e-3, 3e-3, 5e-3, 5.8e-3, 6.2e-3, 6.7e-3, 7.3e-3, 8.2e-3, 0.011,
  0.022, 0.08, 0.25, 0.75, 1, 0.6, 0.2, 0.08, 0.03, 0.017,
  0.011, 8.5e-3, 6.8e-3, 5.6e-3, 4.9e-3, 4.4e-3, 4e-3, 3.8e-3, 3.6e-3, 3.5e-3,
  3.4e-3, 3.2e-3, 3.3e-3, 3.1e-3, 3.2e-3, 3e-3, 3.1e-3, 3.4e-3, 4.5e-3, 3.2e-3,
  3.3e-3, 3.05e-3, 3.5e-3, 2.9e-3, 3.25e-3, 3.6e-3, 2.8e-3, 3.2e-3, 3e-3, 3.45e-3, 2.75e-3, 3.3e-3, 3.1e-3, 3.55e-3, 2.85e-3, 3.2e-3, 2.6e-3, 3.4e-3, 3e-3, 3.25e-3,
  2.9e-3, 3.5e-3, 3.1e-3, 2.7e-3, 3.35e-3, 3e-3, 3.6e-3, 2.8e-3, 3.2e-3, 2.95e-3, 3.45e-3, 2.65e-3, 3.15e-3, 3.3e-3, 2.85e-3, 3.5e-3, 3.05e-3, 2.7e-3, 3.25e-3, 3e-3,
  3.4e-3, 2.8e-3, 3.15e-3, 2.95e-3, 3.55e-3, 2.6e-3, 3.2e-3, 3.05e-3, 2.75e-3, 3.4e-3, 2.9e-3, 3.3e-3, 2.2e-3, 3.1e-3, 3.45e-3, 2.85e-3, 3.15e-3, 2.7e-3, 3.35e-3, 3e-3,
  2.8e-3, 3.3e-3, 3.05e-3, 3.6e-3, 2.75e-3, 3.15e-3, 2.95e-3, 3.45e-3, 2.6e-3, 3.2e-3, 3.05e-3, 3.5e-3, 2.85e-3, 3.1e-3, 2.7e-3, 3.35e-3, 3e-3, 3.25e-3, 2.55e-3, 3.15e-3,
  3.4e-3, 2.9e-3, 3.2e-3, 2.7e-3, 3.5e-3, 3.05e-3, 2.8e-3, 3.3e-3, 3e-3, 3.55e-3, 2.65e-3, 3.15e-3, 2.95e-3, 3.4e-3, 2.1e-3, 3.2e-3, 3.05e-3, 2.75e-3, 3.45e-3, 2.9e-3,
  3.25e-3, 2.8e-3, 3.5e-3, 3.1e-3, 2.7e-3, 3.3e-3, 2.95e-3, 3.6e-3, 2.85e-3, 3.15e-3, 3e-3, 2.6e-3, 3.4e-3, 3.05e-3, 3.25e-3, 2.75e-3, 3.5e-3, 2.9e-3, 3.2e-3, 2.8e-3,
  3.35e-3, 3e-3, 2.7e-3, 3.45e-3, 2.9e-3, 3.2e-3, 3.05e-3, 2.6e-3, 3.5e-3, 2.95e-3, 3.3e-3, 2.8e-3, 3.15e-3, 3.55e-3, 2.85e-3, 3.1e-3, 2.65e-3, 3.4e-3, 3e-3, 3.25e-3,
  2.75e-3, 3.35e-3, 3.05e-3, 1.9e-3, 3.2e-3, 2.9e-3, 3.5e-3, 2.8e-3, 3.15e-3, 3e-3, 3.45e-3, 2.7e-3, 3.25e-3, 2.95e-3, 3.6e-3, 2.85e-3, 3.1e-3, 2.6e-3, 3.4e-3, 3.05e-3,
  2.9e-3, 3.3e-3, 2.75e-3, 3.5e-3, 3.05e-3, 2.85e-3, 3.25e-3, 2.6e-3, 3.4e-3, 3e-3, 3.2e-3, 2.8e-3, 3.55e-3, 2.95e-3, 3.15e-3, 2.7e-3, 3.35e-3, 3.05e-3, 2.9e-3, 3.45e-3,
  2.8e-3, 3.2e-3, 3e-3, 3.5e-3, 2.7e-3, 3.25e-3, 2.95e-3, 3.4e-3, 2.85e-3, 3.15e-3, 3.05e-3, 3.3e-3, 3.2e-3, 4e-3, 6e-3, 0.011, 0.017, 0.018, 0.014, 9e-3,
  6e-3, 4.2e-3, 3.4e-3, 2.9e-3, 3.3e-3, 2.75e-3, 3.5e-3, 3.05e-3, 2.85e-3, 3.2e-3, 2.6e-3, 3.4e-3, 3e-3, 3.15e-3, 2.8e-3, 3.55e-3, 2.95e-3, 3.25e-3, 2.7e-3, 3.1e-3,
  3.35e-3, 2.9e-3, 3.2e-3, 2.65e-3, 3.45e-3, 3.05e-3, 2.8e-3, 3.3e-3, 2.95e-3, 3.5e-3, 2.75e-3, 3.15e-3, 3e-3, 3.4e-3, 2.85e-3, 3.25e-3, 2.6e-3, 3.35e-3, 3.05e-3, 2.9e-3,
  3.2e-3, 3.5e-3, 2.8e-3, 3.1e-3, 2.95e-3, 3.4e-3, 2.7e-3, 3.25e-3, 3.05e-3, 3.55e-3, 2.85e-3, 3.15e-3, 2.6e-3, 3.3e-3, 3e-3, 3.45e-3, 2.75e-3, 3.2e-3, 2.9e-3, 3.35e-3,
  2.95e-3, 3.25e-3, 2.7e-3, 3.5e-3, 3.05e-3, 2.85e-3, 3.3e-3, 3e-3, 3.6e-3, 2.8e-3, 3.15e-3, 2.65e-3, 3.4e-3, 3.05e-3, 2.9e-3, 3.25e-3, 2.75e-3, 3.45e-3, 3e-3, 3.2e-3,
  2.8e-3, 3.35e-3, 3.05e-3, 2.6e-3, 3.3e-3, 2.95e-3, 3.5e-3, 2.85e-3, 3.2e-3, 3e-3, 3.4e-3, 2.7e-3, 3.15e-3, 2.9e-3, 3.55e-3, 2.8e-3, 3.25e-3, 3.05e-3, 2.65e-3, 3.3e-3,
  3.1e-3, 2.85e-3, 3.45e-3, 2.95e-3, 3.2e-3, 2.7e-3, 3.35e-3, 3.05e-3, 2.8e-3, 3.5e-3, 3e-3, 3.25e-3, 2.6e-3, 3.4e-3, 2.9e-3, 3.15e-3, 3.05e-3, 3.6e-3, 2.75e-3, 3.2e-3,
  2.95e-3, 3.3e-3, 2.8e-3, 3.45e-3, 3.05e-3, 2.7e-3, 3.25e-3, 2.9e-3, 3.5e-3, 3e-3, 3.15e-3, 2.65e-3, 3.35e-3, 3.05e-3, 2.85e-3, 3.4e-3, 2.95e-3, 3.2e-3, 2.75e-3, 3.3e-3,
  3.05e-3, 3.45e-3, 2.8e-3, 3.2e-3, 2.95e-3, 3.5e-3, 2.7e-3, 3.3e-3, 3.05e-3, 3.25e-3, 2.9e-3, 3.4e-3, 3.1e-3, 3.3e-3, 3.2e-3, 3.6e-3, 4.5e-3, 6.5e-3, 0.01, 0.018,
  0.03, 0.045, 0.053, 0.04, 0.034, 0.03, 0.016, 8.5e-3, 5e-3, 3.8e-3, 3.2e-3, 2.8e-3, 3.35e-3, 2.9e-3, 3.2e-3, 2.6e-3, 3.4e-3, 3e-3, 3.15e-3, 2.75e-3,
  3.1e-3,
];

const suppressant = [
  1.02e-3, 1.05e-3, 1.02e-3, 1.1e-3, 1.04e-3, 1.12e-3, 1.03e-3, 1.15e-3, 1.05e-3, 1.12e-3,
  1.1e-3, 9.6e-4, 1.15e-3, 1.05e-3, 1.2e-3, 1.1e-3, 1.6e-3, 1.3e-3, 1.9e-3, 1.5e-3,
  2e-3, 2.3e-3, 5e-3, 0.06, 0.14, 0.1, 0.03, 9e-3, 3.5e-3, 2.2e-3,
  2e-3, 1.6e-3, 1.9e-3, 1.7e-3, 2.05e-3, 1.55e-3, 1.85e-3, 1.7e-3, 2e-3, 1.6e-3,
  1.9e-3, 1.75e-3, 2.1e-3, 1.6e-3, 1.95e-3, 1.8e-3, 2.1e-3, 1.65e-3, 2e-3, 1.85e-3,
  2.15e-3, 1.9e-3, 2.6e-3, 5e-3, 5.8e-3, 6.4e-3, 7e-3, 7.6e-3, 8.3e-3, 0.01,
  0.022, 0.075, 0.2, 0.6, 1, 0.72, 0.3, 0.12, 0.04, 0.018,
  0.011, 8.4e-3, 7.4e-3, 6.5e-3, 5.8e-3, 5.2e-3, 4.8e-3, 4.4e-3, 4.2e-3, 3.9e-3,
  3.7e-3, 3.5e-3, 3.6e-3, 3.3e-3, 3.4e-3, 3.5e-3, 3.8e-3, 4.1e-3, 3.9e-3, 3.3e-3,
  3.2e-3, 3e-3, 3.15e-3, 2.9e-3, 3.05e-3, 2.85e-3, 3e-3, 2.75e-3, 2.95e-3, 2.7e-3, 2.85e-3, 2.65e-3, 2.8e-3, 2.55e-3, 2.75e-3, 2.5e-3, 2.7e-3, 2.45e-3, 2.6e-3, 2.42e-3,
  2.55e-3, 2.35e-3, 2.5e-3, 2.3e-3, 2.45e-3, 2.2e-3, 2.42e-3, 2.25e-3, 2.36e-3, 2.15e-3, 2.32e-3, 2.1e-3, 2.28e-3, 2.05e-3, 2.25e-3, 2.02e-3, 2.2e-3, 1.98e-3, 2.18e-3, 1.95e-3,
  2.15e-3, 1.9e-3, 2.12e-3, 1.85e-3, 2.08e-3, 1.95e-3, 1.8e-3, 2.05e-3, 1.88e-3, 2.1e-3, 1.78e-3, 2.02e-3, 1.86e-3, 2.06e-3, 1.75e-3, 1.98e-3, 1.84e-3, 2.04e-3, 1.72e-3, 1.96e-3,
  1.82e-3, 2e-3, 1.7e-3, 1.94e-3, 1.8e-3, 2.02e-3, 1.66e-3, 1.92e-3, 1.78e-3, 1.98e-3, 1.64e-3, 1.88e-3, 1.76e-3, 1.96e-3, 1.6e-3, 1.86e-3, 1.74e-3, 1.92e-3, 1.58e-3, 1.84e-3,
  1.72e-3, 1.9e-3, 1.56e-3, 1.82e-3, 1.7e-3, 1.88e-3, 1.52e-3, 1.8e-3, 1.66e-3, 1.86e-3, 1.5e-3, 1.78e-3, 1.64e-3, 1.84e-3, 1.48e-3, 1.76e-3, 1.62e-3, 1.82e-3, 1.46e-3, 1.74e-3,
  1.6e-3, 1.8e-3, 1.44e-3, 1.72e-3, 1.58e-3, 1.78e-3, 1.4e-3, 1.7e-3, 1.56e-3, 1.76e-3, 1.38e-3, 1.68e-3, 1.54e-3, 1.75e-3, 1.36e-3, 1.66e-3, 1.52e-3, 1.72e-3, 1.34e-3, 1.64e-3,
  1.5e-3, 1.7e-3, 1.3e-3, 1.62e-3, 1.48e-3, 1.74e-3, 1.26e-3, 1.58e-3, 1.46e-3, 1.68e-3, 1.24e-3, 1.6e-3, 1.44e-3, 1.7e-3, 1.2e-3, 1.56e-3, 1.42e-3, 1.66e-3, 1.22e-3, 1.54e-3,
  1.66e-3, 1.3e-3, 1.52e-3, 1.16e-3, 1.72e-3, 1.4e-3, 1.24e-3, 1.6e-3, 1.36e-3, 1.78e-3, 1.2e-3, 1.5e-3, 1.32e-3, 1.68e-3, 1.12e-3, 1.56e-3, 1.44e-3, 1.74e-3, 1.26e-3, 1.48e-3,
  1.34e-3, 1.7e-3, 1.18e-3, 1.58e-3, 1.42e-3, 1.8e-3, 1.28e-3, 1.54e-3, 1.1e-3, 1.64e-3, 1.38e-3, 1.72e-3, 1.22e-3, 1.5e-3, 1.36e-3, 1.76e-3, 1.14e-3, 1.6e-3, 1.3e-3, 1.66e-3,
  1.46e-3, 1.24e-3, 1.7e-3, 1.32e-3, 1.58e-3, 1.16e-3, 1.62e-3, 1.4e-3, 1.74e-3, 1.26e-3, 1.52e-3, 1.36e-3, 1.6e-3, 1.8e-3, 2.1e-3, 2.5e-3, 2.8e-3, 2.7e-3, 2.3e-3, 1.9e-3,
  1.6e-3, 1.3e-3, 1.68e-3, 1.42e-3, 1.2e-3, 1.56e-3, 1.34e-3, 1.76e-3, 1.14e-3, 1.5e-3, 1.38e-3, 1.7e-3, 1.26e-3, 1.62e-3, 1.44e-3, 1.1e-3, 1.58e-3, 1.32e-3, 1.72e-3, 1.22e-3,
  1.54e-3, 1.4e-3, 1.78e-3, 1.18e-3, 1.6e-3, 1.3e-3, 1.66e-3, 1.46e-3, 1.12e-3, 1.56e-3, 1.36e-3, 1.74e-3, 1.24e-3, 1.52e-3, 1.42e-3, 1.68e-3, 1.16e-3, 1.62e-3, 1.34e-3, 1.8e-3,
  1.28e-3, 1.58e-3, 1.4e-3, 1.2e-3, 1.7e-3, 1.32e-3, 1.64e-3, 1.1e-3, 1.5e-3, 1.44e-3, 1.9e-3, 1.26e-3, 1.56e-3, 1.36e-3, 1.72e-3, 1.14e-3, 1.6e-3, 1.42e-3, 1.66e-3, 1.22e-3,
  1.52e-3, 1.34e-3, 1.76e-3, 1.18e-3, 1.62e-3, 1.4e-3, 1.28e-3, 1.68e-3, 1.12e-3, 1.54e-3, 1.38e-3, 1.74e-3, 1.24e-3, 1.58e-3, 1.44e-3, 1.7e-3, 1.16e-3, 1.5e-3, 1.32e-3, 1.64e-3,
  1.3e-3, 1.6e-3, 1.42e-3, 1.14e-3, 1.72e-3, 1.36e-3, 1.56e-3, 1.22e-3, 1.78e-3, 1.4e-3, 1.26e-3, 1.66e-3, 1.34e-3, 1.52e-3, 1.1e-3, 1.62e-3, 1.46e-3, 1.7e-3, 1.2e-3, 1.56e-3,
  1.38e-3, 1.74e-3, 1.28e-3, 1.6e-3, 1.44e-3, 1.16e-3, 1.68e-3, 1.32e-3, 1.54e-3, 1.24e-3, 1.76e-3, 1.4e-3, 1.12e-3, 1.62e-3, 1.36e-3, 1.7e-3, 1.26e-3, 1.5e-3, 1.42e-3, 1.8e-3,
  1.2e-3, 1.58e-3, 1.34e-3, 1.72e-3, 1.18e-3, 1.52e-3, 1.46e-3, 1.66e-3, 1.28e-3, 1.6e-3, 1.14e-3, 1.7e-3, 1.38e-3, 1.56e-3, 1.24e-3, 1.76e-3, 1.32e-3, 1.48e-3, 1.1e-3, 1.64e-3,
  1.4e-3, 1.62e-3, 1.26e-3, 1.74e-3, 1.36e-3, 1.54e-3, 1.18e-3, 1.68e-3, 1.44e-3, 1.58e-3, 1.3e-3, 1.66e-3, 1.5e-3, 1.7e-3, 1.7e-3, 2e-3, 2.5e-3, 3.2e-3, 4.2e-3, 5.3e-3,
  6.4e-3, 7.4e-3, 7.9e-3, 7.6e-3, 6.8e-3, 5.6e-3, 4.2e-3, 3e-3, 2.2e-3, 1.7e-3, 1.45e-3, 1.2e-3, 1.36e-3, 1.1e-3, 1.3e-3, 1.16e-3, 1.4e-3, 1.22e-3, 1.34e-3, 1.18e-3,
  1.3e-3,
];

const sampleNames = ['Organic-free', 'Extractant', 'Diluent', 'Flocculant', 'Lubricating oil', 'Suppressant'];
const sampleSeries = [organicFree, extractant, diluent, flocculant, lubricatingOil, suppressant];
const panelMinima = [2.8e-4, 2.8e-4, 2.8e-4, 2.8e-4, 2.8e-4, 1e-3];
const peakLabels = ['(111)', '(200)', '(220)', '(311)'];

const xTickValues = [40, 45, 50, 55, 60, 65, 70, 75, 80, 85, 90, 95];
const xTickLabels = ['40', '', '50', '', '60', '', '70', '', '80', '', '90', ''];
const yMajorValues = [1, 0.1, 0.01, 0.001];
const yMajorLabels = ['1', '0.1', '0.01', '1E-3'];
const yMinorValues = [
  0.8, 0.6, 0.4, 0.2,
  0.08, 0.06, 0.04, 0.02,
  0.008, 0.006, 0.004, 0.002,
  0.0008, 0.0006, 0.0004,
];

// ---- layout ----
const FONT = "'Liberation Sans', Arial, Helvetica, sans-serif";
const CHART_W = 1015;
const PLOT_L = 148;
const PLOT_R = 998.3;
const PANEL_TOPS = [29, 240.8, 452.6, 664.4, 876.2, 1088];
const PANEL_HEIGHTS = [211.8, 211.8, 211.8, 211.8, 211.8, 213];
const MT = 25;
const TICK_FONT = 31;

function Panel({ index }: { index: number }) {
  const values = sampleSeries[index];
  const yMin = panelMinima[index];
  const height = PANEL_HEIGHTS[index];
  const isFirst = index === 0;
  const isLast = index === 5;
  const mb = isLast ? 70 : 25;
  const data = twoTheta.map((t, i) => ({ t, v: values[i] }));
  const yTicks = [...yMajorValues, ...yMinorValues].filter((v) => v >= yMin * 0.999 && v <= 1);

  const leftTick = (p: any) => {
    const i = yMajorValues.indexOf(p.payload.value);
    const len = i >= 0 ? 17 : 9;
    return (
      <g>
        <line x1={PLOT_L} x2={PLOT_L + len} y1={p.y} y2={p.y} stroke="#000" strokeWidth={2.4} />
        {i >= 0 && (
          <text x={PLOT_L - 17} y={p.y + 9} textAnchor="end" fontSize={TICK_FONT} fontFamily={FONT} fill="#111">
            {yMajorLabels[i]}
          </text>
        )}
      </g>
    );
  };
  const rightTick = (p: any) => {
    const i = yMajorValues.indexOf(p.payload.value);
    const len = i >= 0 ? 17 : 9;
    return <line x1={PLOT_R - len} x2={PLOT_R} y1={p.y} y2={p.y} stroke="#000" strokeWidth={2.4} />;
  };
  const topTick = (p: any) => {
    const v = p.payload.value;
    const len = v % 10 === 0 ? 17 : 8;
    return <line x1={p.x} x2={p.x} y1={MT} y2={MT + len} stroke="#000" strokeWidth={2.4} />;
  };
  const bottomTick = (p: any) => {
    const v = p.payload.value;
    const idx = xTickValues.indexOf(v);
    const len = v % 10 === 0 ? 17 : 8;
    const yb = MT + height;
    return (
      <g>
        <line x1={p.x} x2={p.x} y1={yb} y2={yb - len} stroke="#000" strokeWidth={2.4} />
        {xTickLabels[idx] && (
          <text x={p.x} y={yb + 44} textAnchor="middle" fontSize={TICK_FONT} fontFamily={FONT} fill="#111">
            {xTickLabels[idx]}
          </text>
        )}
      </g>
    );
  };

  return (
    <div style={{ position: 'absolute', left: 0, top: PANEL_TOPS[index] - MT }}>
      <LineChart
        width={CHART_W}
        height={height + MT + mb}
        data={data}
        margin={{
          top: isFirst ? MT - 1 : MT,
          right: CHART_W - PLOT_R,
          bottom: isLast ? mb - 1 : mb,
          left: 0,
        }}
      >
        {isFirst ? (
          <XAxis
            dataKey="t"
            type="number"
            domain={[40, 95]}
            orientation="top"
            height={1}
            ticks={xTickValues}
            interval={0}
            tickLine={false}
            tickSize={0}
            tickMargin={0}
            axisLine={false}
            tick={topTick}
            allowDataOverflow
          />
        ) : isLast ? (
          <XAxis
            dataKey="t"
            type="number"
            domain={[40, 95]}
            orientation="bottom"
            height={1}
            ticks={xTickValues}
            interval={0}
            tickLine={false}
            tickSize={0}
            tickMargin={0}
            axisLine={false}
            tick={bottomTick}
            allowDataOverflow
          />
        ) : (
          <XAxis dataKey="t" type="number" domain={[40, 95]} hide allowDataOverflow />
        )}
        <YAxis
          yAxisId="l"
          type="number"
          scale="log"
          domain={[yMin, 1]}
          allowDataOverflow
          ticks={yTicks}
          interval={0}
          width={PLOT_L}
          tickLine={false}
          tickSize={0}
          tickMargin={0}
          axisLine={{ stroke: '#000', strokeWidth: 2.6 }}
          tick={leftTick}
        />
        <YAxis
          yAxisId="r"
          orientation="right"
          type="number"
          scale="log"
          domain={[yMin, 1]}
          allowDataOverflow
          ticks={yTicks}
          interval={0}
          width={0}
          tickLine={false}
          tickSize={0}
          tickMargin={0}
          axisLine={{ stroke: '#000', strokeWidth: 2.6 }}
          tick={rightTick}
        />
        <Line
          yAxisId="l"
          type="linear"
          dataKey="v"
          stroke="#000"
          strokeWidth={1.5}
          dot={false}
          activeDot={false}
          isAnimationActive={false}
        />
      </LineChart>
    </div>
  );
}

const labelStyle = { fontFamily: FONT, fontSize: 40, fill: '#111' } as const;

export default function App() {
  return (
    <div
      style={{
        position: 'relative',
        width: 995,
        height: 1424,
        overflow: 'hidden',
        background: '#fff',
      }}
    >
      <style>{'html,body{margin:0;padding:0;overflow:hidden;}'}</style>
      {sampleNames.map((_, i) => (
        <Panel key={i} index={i} />
      ))}
      <svg width={995} height={1424} style={{ position: 'absolute', left: 0, top: 0, pointerEvents: 'none' }}>
        {/* frame lines along the top of the first panel and the bottom of the last */}
        <line x1={PLOT_L - 1.3} x2={PLOT_R} y1={PANEL_TOPS[0]} y2={PANEL_TOPS[0]} stroke="#000" strokeWidth={2.6} />
        <line x1={PLOT_L - 1.3} x2={PLOT_R} y1={PANEL_TOPS[5] + PANEL_HEIGHTS[5]} y2={PANEL_TOPS[5] + PANEL_HEIGHTS[5]} stroke="#000" strokeWidth={2.6} />
        <text x={169} y={76} {...labelStyle}>{peakLabels[0]}</text>
        <text x={348} y={80} {...labelStyle}>{peakLabels[1]}</text>
        <text x={665} y={177} {...labelStyle}>{peakLabels[2]}</text>
        <text x={890} y={165} {...labelStyle}>{peakLabels[3]}</text>
        <text x={694} y={90} {...labelStyle}>{sampleNames[0]}</text>
        <text x={697} y={312} {...labelStyle}>{sampleNames[1]}</text>
        <text x={699} y={522} {...labelStyle}>{sampleNames[2]}</text>
        <text x={699} y={742} {...labelStyle}>{sampleNames[3]}</text>
        <text x={699} y={945} {...labelStyle}>{sampleNames[4]}</text>
        <text x={698} y={1170} {...labelStyle}>{sampleNames[5]}</text>
        <text
          transform="translate(47, 616) rotate(-90)"
          textAnchor="middle"
          fontFamily={FONT}
          fontSize={47}
          fontWeight="bold"
          fill="#111"
        >
          log Intensity (CPS)
        </text>
        <text x={575} y={1414} textAnchor="middle" fontFamily={FONT} fontSize={41} fontWeight="bold" fill="#111">
          2<tspan fontWeight="normal">θ</tspan> (°)
        </text>
      </svg>
    </div>
  );
}
